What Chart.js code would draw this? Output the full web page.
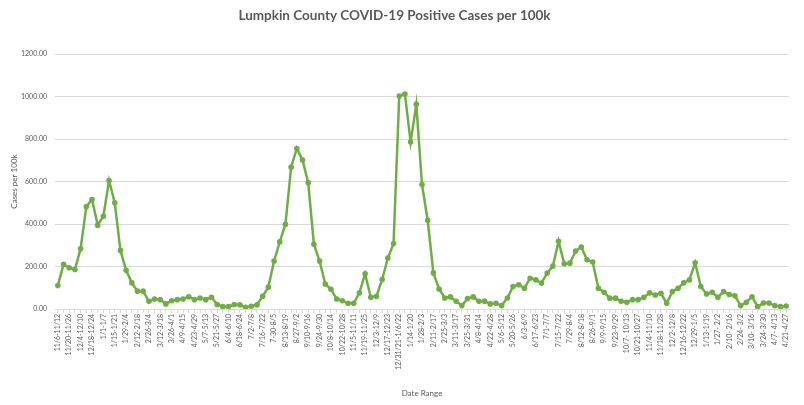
<!DOCTYPE html>
<html>
<head>
<meta charset="utf-8">
<script src="https://cdn.jsdelivr.net/npm/chart.js@4/dist/chart.umd.min.js"></script>
<style>
  html, body { margin: 0; padding: 0; background: #fff; }
  #wrap { width: 804px; height: 405px; }
</style>
</head>
<body>
<div id="wrap"><canvas id="c"></canvas></div>
<script>
/* DATA */
const weeks = [
  "11/6-11/12","11/13-11/19","11/20-11/26","11/27-12/3","12/4-12/10","12/11-12/17","12/18-12/24","12/25-12/31",
  "1/1-1/7","1/8-1/14","1/15-1/21","1/22-1/28","1/29-2/4","2/5-2/11","2/12-2/18","2/19-2/25",
  "2/26-3/4","3/5-3/11","3/12-3/18","3/19-3/25","3/26-4/1","4/2-4/8","4/9-4/15","4/16-4/22",
  "4/23-4/29","4/30-5/6","5/7-5/13","5/14-5/20","5/21-5/27","5/28-6/3","6/4-6/10","6/11-6/17",
  "6/18-6/24","6/25-7/1","7/2-7/8","7/9-7/15","7/16-7/22","7/23-7/29","7-30-8/5","8/6-8/12",
  "8/13-8/19","8/20-8/26","8/27-9/2","9/3-9/9","9/10-9/16","9/17-9/23","9/24-9/30","10/1-10/7",
  "10/8-10/14","10/15-10/21","10/22-10/28","10/29-11/4","11/5-11/11","11/12-11/18","11/19-11/25","11/26-12/2",
  "12/3-12/9","12/10-12/16","12/17-12/23","12/24-12/30","12/31/21-1/6/22","1/7-1/13","1/14-1/20","1/21-1/27",
  "1/28-2/3","2/4-2/10","2/11-2/17","2/18-2/24","2/25-3/3","3/4-3/10","3/11-3/17","3/18-3/24",
  "3/25-3/31","4/1-4/7","4/8-4/14","4/15-4/21","4/22-4/28","4/29-5/5","5/6-5/12","5/13-5/19",
  "5/20-5/26","5/27-6/2","6/3-6/9","6/10-6/16","6/17-6/23","6/24-6/30","7/1-7/7","7/8-7/14",
  "7/15-7/22","7/22-7/28","7/29-8/4","8/5-8/11","8/12-8/18","8/19-8/25","8/26-9/1","9/2-9/8",
  "9/9-9/15","9/16-9/22","9/23-9/29","9/30-10/6","10/7- 10/13","10/14-10/20","10/21-10/27","10/28-11/3",
  "11/4-11/10","11/11-11/17","11/18-11/28","11/25-12/1","12/2-12/8","12/9-12/15","12/16-12/22","12/23-12/28",
  "12/29-1/5","1/6-1/12","1/13-1/19","1/20-1/26","1/27- 2/2","2/3-2/9","2/10- 2/16","2/17-2/23",
  "2/24- 3/2","3/3-3/9","3/10- 3/16","3/17-3/23","3/24-3/30","3/31-4/6","4/7- 4/13","4/14-4/20",
  "4/21-4/27"
];

const casesPer100k = [
  111, 210, 194, 186, 284, 482, 516, 395,
  437, 605, 500, 276, 182, 123, 84, 84,
  36, 47, 44, 24, 39, 44, 47, 58,
  44, 52, 44, 55, 21, 11, 11, 21,
  20, 8, 13, 20, 60, 103, 226, 316,
  399, 668, 756, 702, 595, 305, 226, 118,
  93, 47, 39, 27, 27, 76, 166, 55,
  60, 139, 240, 308, 1003, 1012, 786, 964,
  586, 418, 170, 94, 52, 57, 36, 16,
  49, 57, 36, 37, 24, 27, 16, 52,
  106, 114, 98, 145, 137, 122, 169, 202,
  319, 213, 216, 273, 292, 232, 221, 98,
  79, 51, 51, 36, 32, 44, 44, 55,
  76, 66, 74, 27, 82, 98, 123, 137,
  218, 106, 71, 79, 55, 82, 68, 62,
  16, 32, 58, 11, 28, 28, 16, 11,
  14
];

const yTicks = [0, 200, 400, 600, 800, 1000, 1200];

/* STYLE */
const GREEN = "#70ad47";
const TEXT = "#595959";
const GRID = "#d9d9d9";
const FONT = "Lato, 'Open Sans', sans-serif";

new Chart(document.getElementById("c"), {
  type: "line",
  data: {
    labels: weeks,
    datasets: [{
      label: "Cases per 100k",
      data: casesPer100k,
      borderColor: GREEN,
      backgroundColor: GREEN,
      borderWidth: 2.5,
      pointRadius: 2.8,
      pointBorderWidth: 0,
      tension: 0
    }]
  },
  options: {
    responsive: true,
    maintainAspectRatio: false,
    animation: false,
    layout: { padding: { top: 0, right: 15, bottom: 0, left: 0 } },
    plugins: {
      legend: { display: false },
      tooltip: { enabled: false },
      title: {
        display: true,
        text: "Lumpkin County COVID-19 Positive Cases per 100k",
        color: TEXT,
        font: { family: FONT, size: 13.5, weight: "bold" },
        padding: { top: 8, bottom: 30 }
      }
    },
    scales: {
      x: {
        offset: true,
        border: { display: true, color: GRID, width: 1 },
        grid: { display: true, drawOnChartArea: false, drawTicks: true, tickLength: 4, color: GRID },
        ticks: {
          autoSkip: false,
          minRotation: 90,
          maxRotation: 90,
          padding: 1,
          color: TEXT,
          font: { family: FONT, size: 7 },
          callback: (v, i) => (i % 2 === 0 ? weeks[i] : "")
        },
        title: {
          display: true,
          text: "Date Range",
          color: TEXT,
          font: { family: FONT, size: 8 },
          padding: { top: 0, bottom: 7 }
        },
        afterFit: s => { s.height = 96; }
      },
      y: {
        min: 0,
        max: 1200,
        border: { display: false },
        grid: { color: GRID, drawTicks: false },
        afterBuildTicks: axis => { axis.ticks = yTicks.map(v => ({ value: v })); },
        ticks: {
          padding: 8,
          color: TEXT,
          font: { family: FONT, size: 7 },
          callback: v => Number(v).toFixed(2)
        },
        title: {
          display: true,
          text: "Cases per 100k",
          color: TEXT,
          font: { family: FONT, size: 8 },
          padding: { top: 10, bottom: 0 }
        },
        afterFit: s => { s.width = 55; }
      }
    }
  }
});
</script>
</body>
</html>
